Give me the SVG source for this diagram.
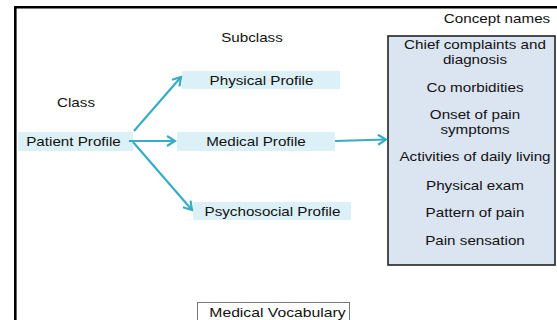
<svg xmlns="http://www.w3.org/2000/svg" width="557" height="320" viewBox="0 0 557 320">
  <style>
    text {
      font-family: "Liberation Sans", Arial, sans-serif; font-size: 13px; fill: #111;
      text-anchor: middle;
      transform-box: fill-box; transform-origin: center; transform: scaleX(1.17);
    }
    text.wide { transform: scaleX(1.21); }
    .node { fill: #dcf0f7; }
    .edge { stroke: #37adc4; stroke-width: 2.2; fill: none; marker-end: url(#head); }
  </style>
  <defs>
    <marker id="head" viewBox="0 0 12 12" refX="10" refY="6" markerWidth="12" markerHeight="12" markerUnits="userSpaceOnUse" orient="auto">
      <path d="M2,1 L10,6 L2,11" fill="none" stroke="#37adc4" stroke-width="2.2"/>
    </marker>
  </defs>
  <rect width="557" height="320" fill="#ffffff"/>
  <!-- outer frame -->
  <path d="M15.3,325 V7.2 H560" fill="none" stroke="#000" stroke-width="2.6"/>

  <!-- headings -->
  <text x="252" y="42">Subclass</text>
  <text x="76" y="107">Class</text>
  <text x="497" y="23">Concept names</text>

  <g id="patient-profile">
    <rect class="node" x="18" y="132" width="115" height="19"/>
    <text x="73.5" y="146">Patient Profile</text>
  </g>
  <g id="physical-profile">
    <rect class="node" x="182" y="71" width="158" height="18"/>
    <text x="261.5" y="85">Physical Profile</text>
  </g>
  <g id="medical-profile">
    <rect class="node" x="177" y="132" width="158" height="19"/>
    <text x="256" y="146">Medical Profile</text>
  </g>
  <g id="psychosocial-profile">
    <rect class="node" x="193" y="202" width="158" height="18"/>
    <text x="272.5" y="216">Psychosocial Profile</text>
  </g>

  <g id="concept-names">
    <rect x="388" y="36" width="167" height="229" fill="#dbe4f1" stroke="#222" stroke-width="1.6"/>
    <text x="475" y="49.5">Chief complaints and</text>
    <text x="475" y="64.3">diagnosis</text>
    <text x="475" y="92">Co morbidities</text>
    <text x="475" y="119.5">Onset of pain</text>
    <text x="475" y="134.3">symptoms</text>
    <text x="475" y="161">Activities of daily living</text>
    <text x="475" y="190">Physical exam</text>
    <text x="475" y="217">Pattern of pain</text>
    <text x="475" y="245">Pain sensation</text>
  </g>

  <g id="medical-vocabulary">
    <rect x="197.5" y="302.5" width="152" height="30" fill="#fff" stroke="#777" stroke-width="1"/>
    <text class="wide" x="277.5" y="317">Medical Vocabulary</text>
  </g>

  <g id="connectors">
    <line class="edge" x1="134" y1="131" x2="181" y2="77"/>
    <line class="edge" x1="129" y1="141" x2="175" y2="141"/>
    <line class="edge" x1="133" y1="142" x2="192" y2="210"/>
    <line class="edge" x1="335" y1="141" x2="386" y2="139.5"/>
  </g>
</svg>
